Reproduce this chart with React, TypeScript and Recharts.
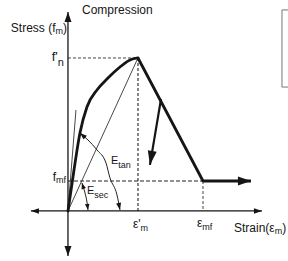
import {
  ComposedChart,
  Line,
  XAxis,
  YAxis,
  ReferenceLine,
  ReferenceDot,
  ReferenceArea,
} from "recharts";

// strain in units of e'm, stress in units of f'n
const riseStrain = [0, 0.086, 0.171, 0.271, 0.414, 0.571, 0.743, 0.886, 1];
const riseStress = [0, 0.268, 0.51, 0.68, 0.791, 0.869, 0.941, 0.987, 1];

const softStrain = [1, 1.929, 2.614];
const softStress = [1, 0.196, 0.196];

const unloadStrain = [1.329, 1.171];
const unloadStress = [0.732, 0.301];

const tangentStrain = [0, 0.114];
const tangentStress = [0, 0.66];

const secantStrain = [0, 1];
const secantStress = [0, 1];

const tanArcStrain = [0.171, 0.286, 0.414, 0.543, 0.6, 0.7, 0.743];
const tanArcStress = [0.51, 0.464, 0.399, 0.314, 0.216, 0.105, 0.007];

const secArcStrain = [0.2, 0.243, 0.271, 0.286];
const secArcStress = [0.183, 0.118, 0.059, 0.007];

const peakStrain = 1;
const peakStress = 1;
const residualStrain = 1.929;
const residualStress = 0.196;

const yAxisRange = [-0.294, 1.301];
const xAxisRange = [-0.529, 2.771];

const zip = (xs: number[], ys: number[]) => xs.map((x, i) => ({ x, y: ys[i] }));

const FONT = "'Liberation Sans', Arial, sans-serif";
const INK = "#151515";

type ArrowOpts = { start?: boolean; end?: boolean; len: number; half: number; color?: string };

const arrowDot = (o: ArrowOpts) => (props: any) => {
  const { index, points, cx, cy } = props;
  const n = points?.length ?? 0;
  let from: any = null;
  if (o.end && index === n - 1) from = points[n - 2];
  else if (o.start && index === 0) from = points[1];
  if (!from) return <g key={`a-${index}`} />;
  const ang = Math.atan2(cy - from.y, cx - from.x);
  const bx = cx - o.len * Math.cos(ang);
  const by = cy - o.len * Math.sin(ang);
  const px = -Math.sin(ang) * o.half;
  const py = Math.cos(ang) * o.half;
  return (
    <polygon
      key={`a-${index}`}
      points={`${cx},${cy} ${bx + px},${by + py} ${bx - px},${by - py}`}
      fill={o.color ?? INK}
      stroke="none"
    />
  );
};

const txt = { fontFamily: FONT, fill: INK } as const;

const App = () => {
  return (
    <div style={{ position: "absolute", left: 0, top: 0, width: 288, height: 261, background: "#fff" }}>
      <ComposedChart width={288} height={261} margin={{ top: 0, right: 0, bottom: 0, left: 0 }}>
        <XAxis dataKey="x" type="number" domain={[-0.971, 3.143]} hide allowDataOverflow />
        <YAxis dataKey="y" type="number" domain={[-0.327, 1.379]} hide allowDataOverflow />

        <ReferenceArea
          x1={3.057}
          x2={3.4}
          y1={0.81}
          y2={1.314}
          fill="none"
          stroke="#777"
          strokeWidth={1}
          ifOverflow="visible"
        />

        {/* dashed guides */}
        <ReferenceLine segment={[{ x: 0, y: peakStress }, { x: peakStrain, y: peakStress }]} stroke="#444" strokeDasharray="3 2" strokeWidth={1} />
        <ReferenceLine segment={[{ x: peakStrain, y: peakStress }, { x: peakStrain, y: 0 }]} stroke="#444" strokeDasharray="3 2" strokeWidth={1.3} />
        <ReferenceLine segment={[{ x: 0, y: residualStress }, { x: residualStrain, y: residualStress }]} stroke="#222" strokeDasharray="4 2" strokeWidth={1.2} />
        <ReferenceLine segment={[{ x: residualStrain, y: residualStress }, { x: residualStrain, y: 0 }]} stroke="#444" strokeDasharray="3 2" strokeWidth={1} />

        {/* axes */}
        <Line
          data={zip([0, 0], yAxisRange)}
          dataKey="y"
          type="linear"
          stroke={INK}
          strokeWidth={1.3}
          dot={arrowDot({ start: true, end: true, len: 10, half: 3.5 })}
          activeDot={false}
          isAnimationActive={false}
        />
        <Line
          data={zip(xAxisRange, [0, 0])}
          dataKey="y"
          type="linear"
          stroke={INK}
          strokeWidth={1.2}
          dot={arrowDot({ start: true, end: true, len: 8, half: 2.8 })}
          activeDot={false}
          isAnimationActive={false}
        />

        {/* thin construction lines */}
        <Line data={zip(tangentStrain, tangentStress)} dataKey="y" type="linear" stroke="#333" strokeWidth={0.9} dot={false} activeDot={false} isAnimationActive={false} />
        <Line data={zip(secantStrain, secantStress)} dataKey="y" type="linear" stroke="#333" strokeWidth={0.9} dot={false} activeDot={false} isAnimationActive={false} />
        <Line
          data={zip(tanArcStrain, tanArcStress)}
          dataKey="y"
          type="monotone"
          stroke="#222"
          strokeWidth={1}
          dot={arrowDot({ start: true, end: true, len: 7, half: 2.5 })}
          activeDot={false}
          isAnimationActive={false}
        />
        <Line
          data={zip(secArcStrain, secArcStress)}
          dataKey="y"
          type="monotone"
          stroke="#222"
          strokeWidth={1}
          dot={arrowDot({ start: true, end: true, len: 6, half: 2.3 })}
          activeDot={false}
          isAnimationActive={false}
        />

        {/* envelope and unloading */}
        <Line
          data={zip(riseStrain, riseStress)}
          dataKey="y"
          type="monotone"
          stroke={INK}
          strokeWidth={2.8}
          strokeLinecap="round"
          dot={false}
          activeDot={false}
          isAnimationActive={false}
        />
        <Line
          data={zip(softStrain, softStress)}
          dataKey="y"
          type="linear"
          stroke={INK}
          strokeWidth={2.8}
          strokeLinejoin="round"
          dot={arrowDot({ end: true, len: 13, half: 4.5 })}
          activeDot={false}
          isAnimationActive={false}
        />
        <Line
          data={zip(unloadStrain, unloadStress)}
          dataKey="y"
          type="linear"
          stroke={INK}
          strokeWidth={2.2}
          dot={arrowDot({ end: true, len: 14, half: 4.5 })}
          activeDot={false}
          isAnimationActive={false}
        />

        {/* labels */}
        <ReferenceDot
          x={0}
          y={yAxisRange[1]}
          r={0}
          shape={(p: any) => (
            <g>
              <text x={p.cx - 1} y={p.cy + 20} textAnchor="end" fontSize={12} {...txt}>
                Stress (f<tspan fontSize={9} dy={2}>m</tspan><tspan dy={-2}>)</tspan>
              </text>
              <text x={p.cx + 14} y={p.cy + 2} fontSize={12} {...txt}>
                Compression
              </text>
            </g>
          )}
        />
        <ReferenceDot
          x={0}
          y={peakStress}
          r={0}
          shape={(p: any) => (
            <text x={p.cx - 4} y={p.cy + 3} textAnchor="end" fontSize={13} {...txt}>
              f'<tspan fontSize={11} dy={5}>n</tspan>
            </text>
          )}
        />
        <ReferenceDot
          x={0}
          y={residualStress}
          r={0}
          shape={(p: any) => (
            <text x={p.cx - 2} y={p.cy} textAnchor="end" fontSize={12} {...txt}>
              f<tspan fontSize={9} dy={2}>mf</tspan>
            </text>
          )}
        />
        <ReferenceDot
          x={peakStrain}
          y={0}
          r={0}
          shape={(p: any) => (
            <text x={p.cx - 5} y={p.cy + 17} fontSize={12} {...txt}>
              ε'<tspan fontSize={9} dy={3}>m</tspan>
            </text>
          )}
        />
        <ReferenceDot
          x={residualStrain}
          y={0}
          r={0}
          shape={(p: any) => (
            <text x={p.cx - 6} y={p.cy + 16} fontSize={12} {...txt}>
              ε<tspan fontSize={9} dy={3}>mf</tspan>
            </text>
          )}
        />
        <ReferenceDot
          x={xAxisRange[1]}
          y={0}
          r={0}
          shape={(p: any) => (
            <text x={p.cx - 28} y={p.cy + 21} fontSize={12} {...txt}>
              Strain(ε<tspan fontSize={9} dy={2}>m</tspan><tspan dy={-2}>)</tspan>
            </text>
          )}
        />
        <ReferenceDot
          x={0.614}
          y={0.307}
          r={0}
          shape={(p: any) => (
            <text x={p.cx} y={p.cy} fontSize={11} {...txt}>
              E<tspan fontSize={9} dy={4}>tan</tspan>
            </text>
          )}
        />
        <ReferenceDot
          x={0.271}
          y={0.111}
          r={0}
          shape={(p: any) => (
            <text x={p.cx} y={p.cy} fontSize={11} {...txt}>
              E<tspan fontSize={9} dy={4}>sec</tspan>
            </text>
          )}
        />
      </ComposedChart>
    </div>
  );
};

export default App;
